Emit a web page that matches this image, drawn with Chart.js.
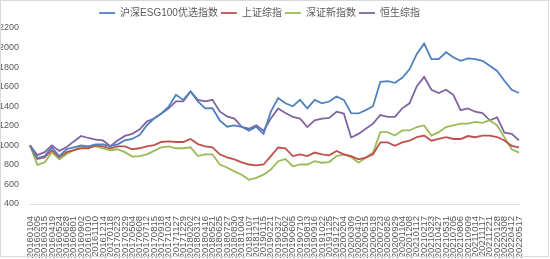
<!DOCTYPE html>
<html>
<head>
<meta charset="utf-8">
<script src="https://cdn.jsdelivr.net/npm/chart.js@4"></script>
<style>
  html, body { margin: 0; padding: 0; background: #fff; }
  #wrap { position: relative; width: 550px; height: 259px; }
  #frame { position: absolute; left: 0; top: 0; width: 547px; height: 255px; border: 1px solid #d9d9d9; pointer-events: none; }
</style>
</head>
<body>
<div id="wrap">
  <canvas id="esgcanvas" width="550" height="259"></canvas>
  <div id="frame"></div>
</div>
<script>
// tick dates shown under the x axis (one every 24 trading days)
let dates = [
    '20160104', '20160205', '20160315', '20160419', '20160524', '20160628', '20160801', '20160902',
    '20161010', '20161110', '20161214', '20170118', '20170223', '20170329', '20170504', '20170608',
    '20170712', '20170815', '20170918', '20171024', '20171127', '20171229', '20180202', '20180312',
    '20180416', '20180521', '20180625', '20180727', '20180830', '20181004', '20181107', '20181211',
    '20190115', '20190221', '20190327', '20190502', '20190605', '20190710', '20190813', '20190916',
    '20191022', '20191125', '20191227', '20200204', '20200309', '20200410', '20200515', '20200618',
    '20200723', '20200826', '20200929', '20201104', '20201208', '20210112', '20210217', '20210323',
    '20210427', '20210531', '20210705', '20210806', '20210909', '20211014', '20211117', '20211221',
    '20220128', '20220308', '20220412', '20220517'
];

// values (base 1000 on 20160104)
let esg100 = [
    1000, 870, 890, 980, 890, 960, 980, 1000, 990, 1010, 1010, 992, 1010, 1050, 1065, 1105,
    1204, 1274, 1326, 1396, 1517, 1465, 1552, 1450, 1378, 1380, 1256, 1190, 1204, 1190, 1150, 1190,
    1117, 1344, 1483, 1430, 1400, 1465, 1378, 1465, 1430, 1448, 1500, 1465, 1330, 1326, 1360, 1400,
    1650, 1657, 1640, 1691, 1778, 1935, 2040, 1882, 1882, 1952, 1900, 1865, 1890, 1882, 1865, 1813,
    1760, 1660, 1569, 1535
];
let shComp = [
    1000, 860, 877, 950, 877, 930, 950, 970, 970, 1000, 990, 970, 990, 990, 960, 970,
    990, 1003, 1034, 1040, 1034, 1034, 1065, 1013, 990, 980, 908, 877, 856, 825, 804, 795,
    804, 890, 978, 970, 890, 908, 890, 926, 908, 898, 943, 908, 890, 856, 874, 908,
    1030, 1030, 995, 1030, 1047, 1083, 1100, 1047, 1065, 1083, 1065, 1065, 1095, 1083, 1100, 1100,
    1085, 1050, 995, 978
];
let szNew = [
    1000, 800, 825, 930, 856, 908, 950, 990, 980, 990, 970, 950, 960, 930, 885, 890,
    908, 943, 980, 990, 970, 970, 980, 890, 908, 908, 804, 773, 734, 700, 647, 668,
    700, 752, 838, 860, 786, 804, 804, 838, 822, 829, 890, 908, 880, 822, 874, 926,
    1135, 1135, 1100, 1152, 1152, 1187, 1204, 1100, 1135, 1187, 1204, 1222, 1222, 1240, 1230, 1256,
    1204, 1080, 960, 926
];
let hsComp = [
    1000, 900, 930, 1000, 943, 980, 1040, 1096, 1075, 1058, 1050, 992, 1050, 1096, 1117, 1162,
    1243, 1274, 1326, 1378, 1450, 1450, 1552, 1465, 1450, 1465, 1347, 1295, 1274, 1190, 1170, 1204,
    1150, 1274, 1378, 1330, 1291, 1274, 1187, 1256, 1274, 1280, 1344, 1325, 1080, 1117, 1170, 1222,
    1310, 1291, 1291, 1378, 1430, 1605, 1700, 1569, 1535, 1569, 1517, 1360, 1378, 1344, 1330, 1256,
    1285, 1130, 1117, 1050
];

let yTicks = [400, 600, 800, 1000, 1200, 1400, 1600, 1800, 2000, 2200];

let seriesNames = ['沪深ESG100优选指数', '上证综指', '深证新指数', '恒生综指'];
let seriesColors = ['#4f81bd', '#c0504d', '#9bbb59', '#8064a2'];
let seriesData = [esg100, shComp, szNew, hsComp];

let fontFamily = "'Liberation Sans', 'Noto Sans CJK SC', sans-serif";

let datasets = seriesNames.map(function(name, i) {
    return {
        label: name,
        data: seriesData[i],
        borderColor: seriesColors[i],
        backgroundColor: seriesColors[i],
        borderWidth: 1.8,
        pointRadius: 0,
        tension: 0,
        fill: false
    };
});

let Canvas = document.getElementById('esgcanvas').getContext('2d');
let lineChart = new Chart(Canvas, {
    type: 'line',
    data: {
        labels: dates,
        datasets: datasets
    },
    options: {
        responsive: false,
        animation: false,
        layout: { padding: { top: 5, right: 31, left: 0, bottom: 0 } },
        plugins: {
            legend: {
                position: 'top',
                labels: {
                    usePointStyle: true,
                    pointStyle: 'line',
                    pointStyleWidth: 16,
                    padding: 3,
                    color: '#595959',
                    font: { family: fontFamily, size: 10 }
                }
            },
            tooltip: { enabled: false }
        },
        scales: {
            x: {
                grid: { display: false },
                border: { color: '#d9d9d9' },
                ticks: {
                    autoSkip: false,
                    maxRotation: 90,
                    minRotation: 90,
                    padding: 4,
                    color: '#595959',
                    font: { family: fontFamily, size: 9.5 }
                },
                afterFit: function(scale) { scale.height = 55; }
            },
            y: {
                min: yTicks[0],
                max: yTicks[yTicks.length - 1],
                grid: { display: false },
                border: { display: false },
                ticks: {
                    stepSize: 200,
                    padding: 3,
                    color: '#595959',
                    font: { family: fontFamily, size: 9 },
                    callback: function(value) { return String(value); }
                },
                afterFit: function(scale) { scale.width = 30; }
            }
        }
    }
});
</script>
</body>
</html>
